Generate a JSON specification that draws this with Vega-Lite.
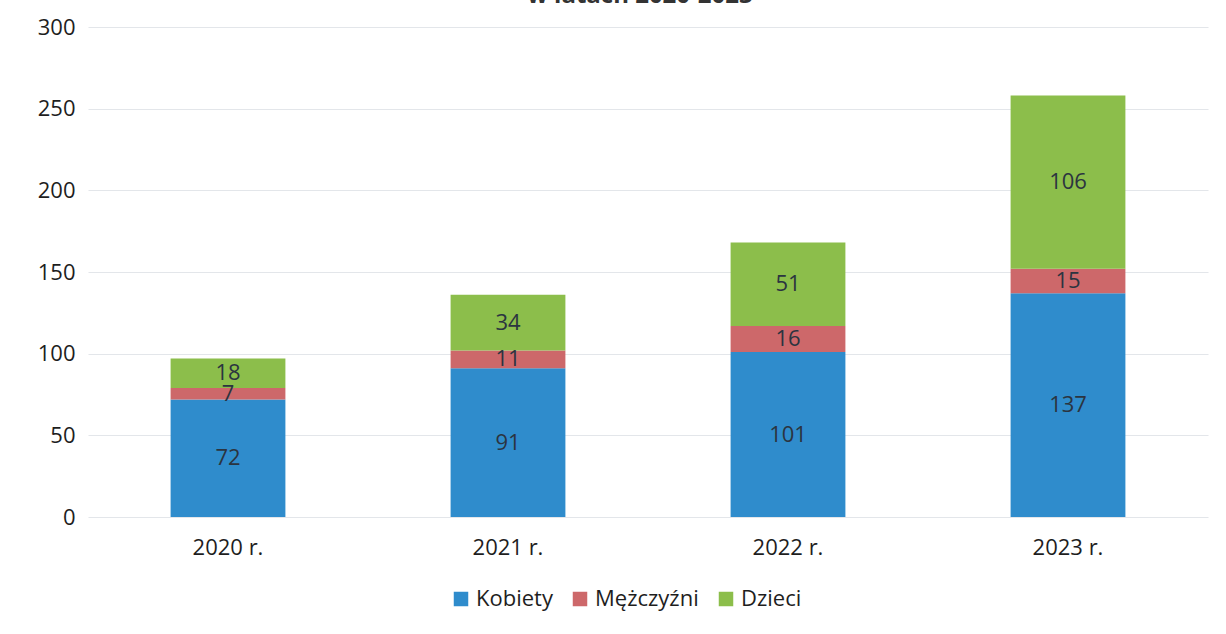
{
  "$schema": "https://vega.github.io/schema/vega-lite/v6.json",
  "autosize": {"type": "none"},
  "width": 1120,
  "height": 490,
  "padding": {"left": 88, "top": 27, "right": 18, "bottom": 117},
  "background": "white",
  "title": {"text": "w latach 2020-2023", "fontSize": 24, "font": "Open Sans", "fontWeight": "bold", "color": "#333333", "offset": -16, "baseline": "bottom", "dx": -8},
  "config": {
    "font": "Open Sans",
    "view": {"stroke": null},
    "axis": {"labelFont": "Open Sans", "labelColor": "#1e1e1e", "labelFontSize": 22, "grid": false, "domain": false, "ticks": false, "title": null}
  },
  "data": {"values": [
    {"rok": "2020 r.", "grupa": "Kobiety", "o": 1, "v": 72},
    {"rok": "2020 r.", "grupa": "Mężczyźni", "o": 2, "v": 7},
    {"rok": "2020 r.", "grupa": "Dzieci", "o": 3, "v": 18},
    {"rok": "2021 r.", "grupa": "Kobiety", "o": 1, "v": 91},
    {"rok": "2021 r.", "grupa": "Mężczyźni", "o": 2, "v": 11},
    {"rok": "2021 r.", "grupa": "Dzieci", "o": 3, "v": 34},
    {"rok": "2022 r.", "grupa": "Kobiety", "o": 1, "v": 101},
    {"rok": "2022 r.", "grupa": "Mężczyźni", "o": 2, "v": 16},
    {"rok": "2022 r.", "grupa": "Dzieci", "o": 3, "v": 51},
    {"rok": "2023 r.", "grupa": "Kobiety", "o": 1, "v": 137},
    {"rok": "2023 r.", "grupa": "Mężczyźni", "o": 2, "v": 15},
    {"rok": "2023 r.", "grupa": "Dzieci", "o": 3, "v": 106}
  ]},
  "transform": [
    {"stack": "v", "groupby": ["rok"], "sort": [{"field": "o", "order": "ascending"}], "as": ["v0", "v1"]},
    {"calculate": "(datum.v0 + datum.v1) / 2", "as": "mid"}
  ],
  "encoding": {
    "x": {"field": "rok", "type": "nominal", "sort": null,
      "scale": {"paddingInner": 0.59, "paddingOuter": 0.295},
      "axis": {"labelAngle": 0, "labelPadding": 20}}
  },
  "layer": [
    {
      "mark": {"type": "bar"},
      "encoding": {
        "y": {"field": "v0", "type": "quantitative",
          "scale": {"domain": [0, 300], "nice": false},
          "axis": {"values": [0, 50, 100, 150, 200, 250, 300], "grid": true, "gridColor": "#e3e6ea", "gridWidth": 1.2, "labelPadding": 16, "offset": -3}},
        "y2": {"field": "v1"},
        "color": {"field": "grupa", "type": "nominal",
          "scale": {"domain": ["Kobiety", "Mężczyźni", "Dzieci"], "range": ["#2f8ccc", "#cd686a", "#8cbe4b"]},
          "legend": {"orient": "none", "legendX": 362, "legendY": 561, "direction": "horizontal", "title": null,
            "symbolType": "square", "symbolSize": 210, "symbolStrokeWidth": 0, "labelFontSize": 22, "labelColor": "#1e1e1e", "columnPadding": 16, "labelOffset": 4}}
      }
    },
    {
      "mark": {"type": "text", "fontSize": 22, "color": "#2b3440", "baseline": "middle"},
      "encoding": {
        "y": {"field": "mid", "type": "quantitative"},
        "text": {"field": "v", "type": "quantitative"}
      }
    }
  ]
}
